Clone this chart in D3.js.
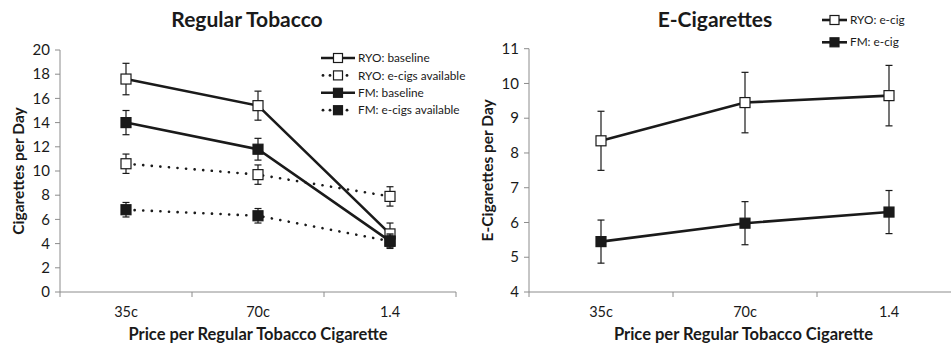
<!DOCTYPE html>
<html><head><meta charset="utf-8">
<script src="https://cdn.jsdelivr.net/npm/d3@7"></script>
<style>body{margin:0;background:#fff}svg{display:block}text{font-family:Lato,"Open Sans",sans-serif;fill:#1a1a1a}</style>
</head><body><svg id="c" width="951" height="345"></svg>
<script>
const categories = ["35c", "70c", "1.4"];
// Left panel: regular tobacco cigarettes per day
const ryoBaseline = [17.6, 15.4, 4.8];
const ryoBaselineErr = [1.3, 1.2, 0.9];
const ryoEcig = [10.6, 9.7, 7.9];
const ryoEcigErr = [0.8, 0.8, 0.8];
const fmBaseline = [14.0, 11.8, 4.2];
const fmBaselineErr = [1.0, 0.9, 0.6];
const fmEcig = [6.8, 6.3, 4.2];
const fmEcigErr = [0.6, 0.6, 0.5];
const leftTicks = [0, 2, 4, 6, 8, 10, 12, 14, 16, 18, 20];
// Right panel: e-cigarettes per day
const ryoEcigUse = [8.35, 9.45, 9.65];
const ryoEcigUseErr = [0.85, 0.87, 0.87];
const fmEcigUse = [5.45, 5.98, 6.3];
const fmEcigUseErr = [0.62, 0.62, 0.62];
const rightTicks = [4, 5, 6, 7, 8, 9, 10, 11];

const svg = d3.select("#c");
const axisColor = "#8c8c8c";
const ink = "#1a1a1a";

function panel(o) {
  const x = d3.scaleBand().domain(categories).range([o.x0, o.x1]).padding(0);
  const y = d3.scaleLinear().domain(o.domain).range([o.yBottom, o.yTop]);
  const g = svg.append("g");
  // axes
  g.append("line").attr("x1", o.x0).attr("x2", o.x0).attr("y1", y(o.domain[0])).attr("y2", y(o.domain[1])).attr("stroke", axisColor);
  g.append("line").attr("x1", o.x0).attr("x2", o.x1).attr("y1", y(o.domain[0])).attr("y2", y(o.domain[0])).attr("stroke", axisColor);
  o.ticks.forEach(t => {
    g.append("line").attr("x1", o.x0 - 5).attr("x2", o.x0).attr("y1", y(t)).attr("y2", y(t)).attr("stroke", axisColor);
    g.append("text").attr("x", o.x0 - 10).attr("y", y(t)).attr("dy", "0.35em").attr("text-anchor", "end").style("font-size", "15px").text(t);
  });
  const bounds = categories.map(c => x(c)).concat([x(categories[categories.length - 1]) + x.bandwidth()]);
  bounds.forEach(b => g.append("line").attr("x1", b).attr("x2", b).attr("y1", y(o.domain[0])).attr("y2", y(o.domain[0]) + 5).attr("stroke", axisColor));
  categories.forEach(c => g.append("text").attr("x", x(c) + x.bandwidth() / 2).attr("y", 317).attr("text-anchor", "middle").style("font-size", "14.5px").text(c));
  // titles
  g.append("text").attr("x", o.titleX).attr("y", 27).attr("text-anchor", "middle").style("font-size", "21px").style("font-weight", "bold").text(o.title);
  g.append("text").attr("x", (o.x0 + o.x1c) / 2).attr("y", 340).attr("text-anchor", "middle").style("font-size", "16.5px").style("font-weight", "bold").text("Price per Regular Tobacco Cigarette");
  g.append("text").attr("transform", `translate(${o.yLabX},${(y(o.domain[0]) + y(o.domain[1])) / 2}) rotate(-90)`).attr("text-anchor", "middle").style("font-size", "15.5px").style("font-weight", "bold").text(o.yLabel);
  // series
  o.series.forEach(s => {
    const pts = s.values.map((v, i) => [x(categories[i]) + x.bandwidth() / 2, y(v)]);
    g.append("path").attr("d", d3.line()(pts)).attr("fill", "none").attr("stroke", ink)
      .attr("stroke-width", 2.6).attr("stroke-dasharray", s.dotted ? "0.1,8.5" : null).attr("stroke-linecap", s.dotted ? "round" : "butt");
    s.values.forEach((v, i) => {
      const cx = x(categories[i]) + x.bandwidth() / 2, e = s.err[i];
      g.append("line").attr("x1", cx).attr("x2", cx).attr("y1", y(v + e)).attr("y2", y(v - e)).attr("stroke", ink).attr("stroke-width", 1.2);
      [v + e, v - e].forEach(t => g.append("line").attr("x1", cx - 3.5).attr("x2", cx + 3.5).attr("y1", y(t)).attr("y2", y(t)).attr("stroke", ink).attr("stroke-width", 1.2));
    });
    s.values.forEach((v, i) => {
      const cx = x(categories[i]) + x.bandwidth() / 2;
      g.append("rect").attr("x", cx - 5).attr("y", y(v) - 5).attr("width", 10).attr("height", 10)
        .attr("fill", s.filled ? ink : "#fff").attr("stroke", ink).attr("stroke-width", 1.2);
    });
  });
  // legend
  o.series.forEach((s, i) => {
    const ly = o.legY + i * o.legStep, lx = o.legX;
    if (s.dotted) {
      [lx + 2, lx + 9, lx + 26].forEach(dx => g.append("circle").attr("cx", dx).attr("cy", ly).attr("r", 1.4).attr("fill", ink));
    } else {
      g.append("line").attr("x1", lx).attr("x2", lx + o.legLen).attr("y1", ly).attr("y2", ly).attr("stroke", ink).attr("stroke-width", 2.6);
    }
    const mx = lx + o.legLen / 2;
    g.append("rect").attr("x", mx - 4.5).attr("y", ly - 4.5).attr("width", 9).attr("height", 9).attr("fill", s.filled ? ink : "#fff").attr("stroke", ink).attr("stroke-width", 1.2);
    g.append("text").attr("x", lx + o.legLen + 3).attr("y", ly).attr("dy", "0.35em").style("font-size", o.legFont).text(s.name);
  });
}

panel({
  x0: 60, x1: 456, x1c: 456, yTop: 50, yBottom: 292, domain: [0, 20], ticks: leftTicks,
  title: "Regular Tobacco", titleX: 247, yLabel: "Cigarettes per Day", yLabX: 24,
  legX: 321, legY: 58, legStep: 17.4, legLen: 34, legFont: "11.8px",
  series: [
    { name: "RYO: baseline", values: ryoBaseline, err: ryoBaselineErr, filled: false, dotted: false },
    { name: "RYO: e-cigs available", values: ryoEcig, err: ryoEcigErr, filled: false, dotted: true },
    { name: "FM: baseline", values: fmBaseline, err: fmBaselineErr, filled: true, dotted: false },
    { name: "FM: e-cigs available", values: fmEcig, err: fmEcigErr, filled: true, dotted: true }
  ]
});
panel({
  x0: 529, x1: 961, x1c: 958, yTop: 48.7, yBottom: 292, domain: [4, 11], ticks: rightTicks,
  title: "E-Cigarettes", titleX: 715, yLabel: "E-Cigarettes per Day", yLabX: 493,
  legX: 822, legY: 20, legStep: 22.3, legLen: 25, legFont: "11.8px",
  series: [
    { name: "RYO: e-cig", values: ryoEcigUse, err: ryoEcigUseErr, filled: false, dotted: false },
    { name: "FM: e-cig", values: fmEcigUse, err: fmEcigUseErr, filled: true, dotted: false }
  ]
});
</script></body></html>
